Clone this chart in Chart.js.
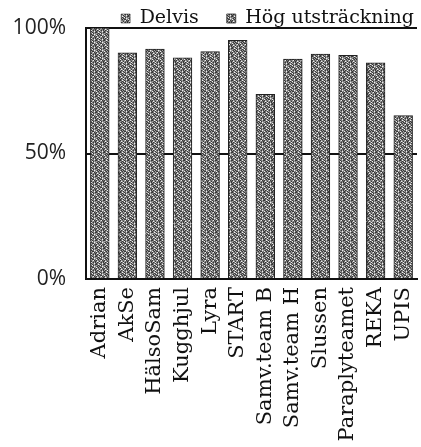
<!DOCTYPE html>
<html>
<head>
<meta charset="utf-8">
<script src="https://cdn.jsdelivr.net/npm/chart.js@4"></script>
<style>
  html, body { margin: 0; padding: 0; background: #fff; }
  #wrap { width: 421px; height: 447px; }
</style>
</head>
<body>
<div id="wrap"><canvas id="team_chart"></canvas></div>
<script>
const team_labels = ["Adrian", "AkSe", "HälsoSam", "Kugghjul", "Lyra", "START",
  "Samv.team B", "Samv.team H", "Slussen", "Paraplyteamet", "REKA", "UPIS"];
const delvis_values = [15, 20, 18, 22, 16, 20, 28, 21, 25, 19, 23, 30];
const hog_values = [85, 70, 73.5, 66, 74.5, 75, 45.5, 66.5, 64.5, 70, 63, 35];
const y_ticks = [0, 50, 100];

// grey stipple like the scanned print
function make_pattern(rows) {
  const c = document.createElement("canvas");
  c.width = rows[0].length;
  c.height = rows.length;
  const g = c.getContext("2d");
  const shades = { a: "#383838", b: "#727272", c: "#a2a2a2", w: "#f0f0f0" };
  rows.forEach((row, y) => {
    row.split("").forEach((ch, x) => {
      g.fillStyle = shades[ch];
      g.fillRect(x, y, 1, 1);
    });
  });
  return g.createPattern(c, "repeat");
}

const tile = make_pattern([
  "abwcabca",
  "cbabwacb",
  "bacabbwc",
  "wbacaacb",
  "acbbcwab",
  "bwcacbba",
  "cabwbaca",
  "abcacbwb",
]);

const team_ctx = document.getElementById("team_chart");

// keep legend row near the top while item spacing stays wide
const legend_fix = {
  id: "legend_fix",
  afterInit(chart) {
    const orig = chart.legend.fit;
    chart.legend.fit = function () {
      orig.call(this);
      this.height = 28;
    };
  },
  afterLayout(chart) {
    chart.legend.top = -19;
    chart.legend.left += 25;
    chart.legend.right += 25;
  },
};

const team_chart = new Chart(team_ctx, {
  type: "bar",
  data: {
    labels: team_labels,
    datasets: [
      {
        label: "Delvis",
        data: delvis_values,
        backgroundColor: tile,
        borderColor: "#222",
        borderWidth: { left: 1, right: 1, top: 0, bottom: 0 },
        borderSkipped: false,
        inflateAmount: 0.6,
      },
      {
        label: "Hög utsträckning",
        data: hog_values,
        backgroundColor: tile,
        borderColor: "#222",
        borderWidth: { left: 1, right: 1, top: 1, bottom: 0 },
        borderSkipped: false,
        inflateAmount: 0.6,
      },
    ],
  },
  options: {
    responsive: true,
    maintainAspectRatio: false,
    animation: false,
    layout: { padding: { left: 0, right: 4, top: 0, bottom: 0 } },
    datasets: { bar: { categoryPercentage: 1, barPercentage: 0.66 } },
    plugins: {
      tooltip: { enabled: false },
      legend: {
        position: "top",
        align: "end",
        labels: {
          boxWidth: 9,
          boxHeight: 9,
          padding: 28,
          color: "#111",
          font: { family: "DejaVu Serif", size: 19 },
        },
      },
    },
    scales: {
      x: {
        stacked: true,
        grid: { display: false, drawTicks: false },
        border: { display: true, color: "#111", width: 2 },
        ticks: {
          autoSkip: false,
          minRotation: 90,
          maxRotation: 90,
          padding: 8,
          color: "#111",
          font: { family: "DejaVu Serif", size: 21 },
        },
        afterFit(scale) {
          scale.height = 168;
          scale.paddingRight = 0;
          scale.paddingLeft = 0;
        },
      },
      y: {
        stacked: true,
        min: 0,
        max: 100,
        afterBuildTicks(scale) {
          scale.ticks = y_ticks.map((v) => ({ value: v }));
        },
        grid: { color: "#111", lineWidth: 2, drawTicks: false },
        border: { display: true, color: "#111", width: 2 },
        ticks: {
          padding: 20,
          color: "#222",
          font: { family: "Open Sans", size: 21 },
          callback: (v) => v + "%",
        },
        afterFit(scale) {
          scale.width = 86;
          scale.paddingTop = 0;
          scale.paddingBottom = 0;
        },
      },
    },
  },
  plugins: [legend_fix],
});
</script>
</body>
</html>
